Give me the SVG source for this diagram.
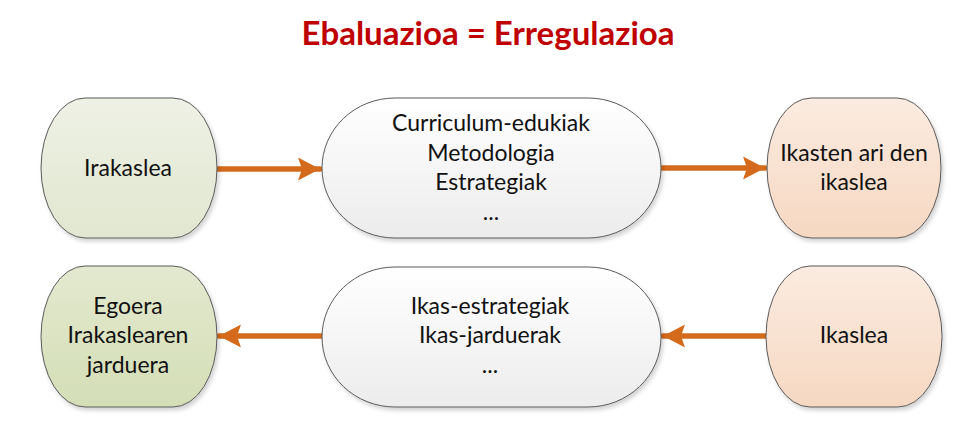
<svg xmlns="http://www.w3.org/2000/svg" width="978" height="428" viewBox="0 0 978 428">
<defs>
<linearGradient id="gGreen1" x1="0" y1="0" x2="0" y2="1"><stop offset="0" stop-color="#eef1e5"/><stop offset="1" stop-color="#e1e7d0"/></linearGradient>
<linearGradient id="gGreen2" x1="0" y1="0" x2="0" y2="1"><stop offset="0" stop-color="#e3e9cf"/><stop offset="1" stop-color="#d4deb6"/></linearGradient>
<linearGradient id="gPeach" x1="0" y1="0" x2="0" y2="1"><stop offset="0" stop-color="#fbebe0"/><stop offset="1" stop-color="#f6d8c2"/></linearGradient>
<linearGradient id="gWhite" x1="0" y1="0" x2="0" y2="1"><stop offset="0" stop-color="#ffffff"/><stop offset="1" stop-color="#ececec"/></linearGradient>
<filter id="sh" x="-10%" y="-10%" width="125%" height="130%"><feGaussianBlur in="SourceAlpha" stdDeviation="2"/><feOffset dx="2" dy="3" result="b"/><feComponentTransfer><feFuncA type="linear" slope="0.18"/></feComponentTransfer><feMerge><feMergeNode/><feMergeNode in="SourceGraphic"/></feMerge></filter>
<marker id="ah" markerUnits="userSpaceOnUse" markerWidth="24" markerHeight="24" refX="22" refY="12" orient="auto"><path d="M0,0.5 L22,12 L0,23.5 L4,12 Z" fill="#d46b1c"/></marker>
</defs>
<style>
.node{stroke:#5a5a5a;stroke-width:1;filter:url(#sh)}
.t{font-family:Lato,"Open Sans","Liberation Sans",sans-serif;font-size:23px;fill:#111;text-anchor:middle}
.title{font-family:Lato,"Open Sans","Liberation Sans",sans-serif;font-size:33px;font-weight:bold;fill:#c00000;text-anchor:middle}
.c{stroke:#d46b1c;stroke-width:5.5;fill:none;stroke-linecap:round;marker-end:url(#ah)}
</style>
<rect width="978" height="428" fill="#ffffff"/>
<text class="title" x="488" y="45">Ebaluazioa = Erregulazioa</text>
<g id="connectors">
<path class="c" d="M218,169 H320"/>
<path class="c" d="M661,168 H765"/>
<path class="c" d="M767,336 H663"/>
<path class="c" d="M322,336 H219"/>
</g>
<g id="irakaslea">
<path class="node" fill="url(#gGreen1)" d="M85,98 H173 A44,70 0 0 1 217,168 A44,70 0 0 1 173,238 H85 A44,70 0 0 1 41,168 A44,70 0 0 1 85,98 Z"/>
<text class="t" x="128" y="176">Irakaslea</text>
</g>
<g id="curriculum">
<path class="node" fill="url(#gWhite)" d="M395,98 H588 A73,70 0 0 1 661,168 A73,70 0 0 1 588,238 H395 A73,70 0 0 1 322,168 A73,70 0 0 1 395,98 Z"/>
<text class="t" x="491" y="131">Curriculum-edukiak</text>
<text class="t" x="491" y="161">Metodologia</text>
<text class="t" x="491" y="190">Estrategiak</text>
<text class="t" x="491" y="220">...</text>
</g>
<g id="ikasten">
<path class="node" fill="url(#gPeach)" d="M811,98 H897 A44,70 0 0 1 941,168 A44,70 0 0 1 897,238 H811 A44,70 0 0 1 767,168 A44,70 0 0 1 811,98 Z"/>
<text class="t" x="854" y="161">Ikasten ari den</text>
<text class="t" x="854" y="190">ikaslea</text>
</g>
<g id="egoera">
<path class="node" fill="url(#gGreen2)" d="M85,266 H173 A44,70.5 0 0 1 217,336.5 A44,70.5 0 0 1 173,407 H85 A44,70.5 0 0 1 41,336.5 A44,70.5 0 0 1 85,266 Z"/>
<text class="t" x="128" y="314">Egoera</text>
<text class="t" x="128" y="343">Irakaslearen</text>
<text class="t" x="128" y="373">jarduera</text>
</g>
<g id="ikasestrategiak">
<path class="node" fill="url(#gWhite)" d="M395,267 H588 A73,70 0 0 1 661,337 A73,70 0 0 1 588,407 H395 A73,70 0 0 1 322,337 A73,70 0 0 1 395,267 Z"/>
<text class="t" x="490" y="314">Ikas-estrategiak</text>
<text class="t" x="490" y="343">Ikas-jarduerak</text>
<text class="t" x="490" y="373">...</text>
</g>
<g id="ikaslea">
<path class="node" fill="url(#gPeach)" d="M810,266 H898 A44,70.5 0 0 1 942,336.5 A44,70.5 0 0 1 898,407 H810 A44,70.5 0 0 1 766,336.5 A44,70.5 0 0 1 810,266 Z"/>
<text class="t" x="854" y="343">Ikaslea</text>
</g>
</svg>
